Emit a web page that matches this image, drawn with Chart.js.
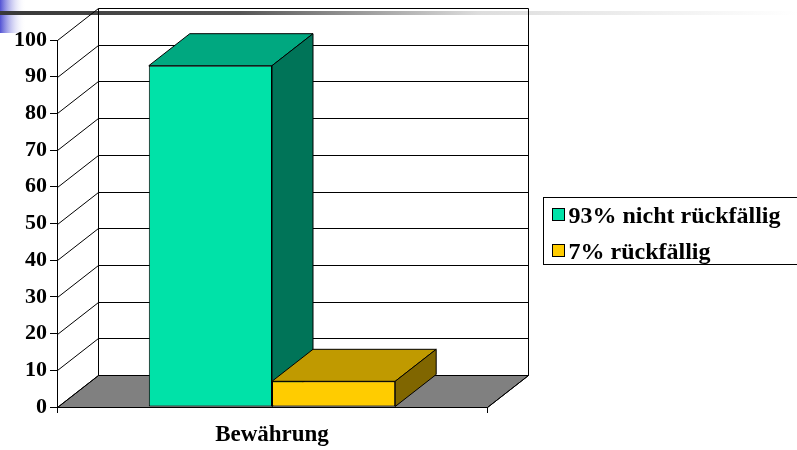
<!DOCTYPE html>
<html>
<head>
<meta charset="utf-8">
<script src="https://cdn.jsdelivr.net/npm/chart.js@4/dist/chart.umd.min.js"></script>
<style>
  html, body { margin: 0; padding: 0; background: #fff; }
  #wrap { width: 797px; height: 450px; position: relative; }
</style>
</head>
<body>
<div id="wrap"><canvas id="myChart"></canvas></div>
<script>
// chart data
const categories = ['Bewährung'];
const seriesLabels = ['93% nicht rückfällig', '7% rückfällig'];
const nichtRueckfaellig = [93];
const rueckfaellig = [7];
const yMin = 0;
const yMax = 100;
const yStep = 10;

// colours: front, top, side
const greenFace = ['#00e2a8', '#00a880', '#007458'];
const yellowFace = ['#ffcc00', '#c09a00', '#806600'];

const DX = 41, DY = -32;

function poly(ctx, pts, fill) {
    ctx.beginPath();
    ctx.moveTo(pts[0][0], pts[0][1]);
    for (let i = 1; i < pts.length; i++) ctx.lineTo(pts[i][0], pts[i][1]);
    ctx.closePath();
    if (fill) { ctx.fillStyle = fill; ctx.fill(); }
    ctx.strokeStyle = '#000';
    ctx.lineWidth = 1;
    ctx.stroke();
}

const slideDeco = {
    id: 'slideDeco',
    beforeDraw(chart) {
        const ctx = chart.ctx;
        ctx.save();
        ctx.fillStyle = '#fff';
        ctx.fillRect(0, 0, chart.width, chart.height);
        let g = ctx.createLinearGradient(0, 0, 26, 0);
        g.addColorStop(0, '#5252d4');
        g.addColorStop(1, 'rgba(255,255,255,0)');
        ctx.fillStyle = g;
        ctx.fillRect(0, 0, 26, 33);
        g = ctx.createLinearGradient(0, 0, chart.width, 0);
        g.addColorStop(0, '#383838');
        g.addColorStop(0.3, '#555555');
        g.addColorStop(0.6, '#dddddd');
        g.addColorStop(1, '#ffffff');
        ctx.fillStyle = g;
        ctx.fillRect(0, 11, chart.width, 4);
        ctx.restore();
    }
};

const threeD = {
    id: 'threeD',
    beforeDatasetsDraw(chart) {
        const ctx = chart.ctx;
        const a = chart.chartArea;
        const ys = chart.scales.y;
        const y0 = ys.getPixelForValue(yMin);
        ctx.save();
        ctx.translate(0.5, 0.5);
        // floor
        poly(ctx, [[a.left, y0], [a.right, y0], [a.right + DX, y0 + DY], [a.left + DX, y0 + DY]], '#808080');
        // back wall + diagonals
        ctx.beginPath();
        for (let v = yMin; v <= yMax; v += yStep) {
            const py = Math.round(ys.getPixelForValue(v));
            ctx.moveTo(a.left, py);
            ctx.lineTo(a.left + DX, py + DY);
            ctx.lineTo(a.right + DX, py + DY);
        }
        const top = Math.round(ys.getPixelForValue(yMax));
        ctx.moveTo(a.left + DX, top + DY);
        ctx.lineTo(a.left + DX, y0 + DY);
        ctx.moveTo(a.right + DX, top + DY);
        ctx.lineTo(a.right + DX, y0 + DY);
        ctx.moveTo(a.right, y0);
        ctx.lineTo(a.right + DX, y0 + DY);
        ctx.strokeStyle = '#000';
        ctx.lineWidth = 1;
        ctx.stroke();
        ctx.restore();
        // bar tops and sides
        ctx.save();
        chart.data.datasets.forEach((ds, i) => {
            const meta = chart.getDatasetMeta(i);
            meta.data.forEach(bar => {
                const l = bar.x - bar.width / 2, r = bar.x + bar.width / 2;
                const t = bar.y, b = bar.base;
                poly(ctx, [[l, t], [r, t], [r + DX, t + DY], [l + DX, t + DY]], ds.topColor);
                poly(ctx, [[r, t], [r + DX, t + DY], [r + DX, b + DY], [r, b]], ds.sideColor);
            });
        });
        ctx.restore();
    },
    afterDraw(chart) {
        // legend box
        const ctx = chart.ctx;
        ctx.save();
        ctx.translate(0.5, 0.5);
        ctx.strokeStyle = '#000';
        ctx.lineWidth = 1;
        ctx.strokeRect(543, 197, 270, 67);
        ctx.font = 'bold 24px "Liberation Serif"';
        ctx.textBaseline = 'middle';
        chart.data.datasets.forEach((ds, i) => {
            const yy = 214 + i * 36;
            ctx.fillStyle = ds.backgroundColor;
            ctx.fillRect(552, yy - 6, 12, 12);
            ctx.strokeRect(552, yy - 6, 12, 12);
            ctx.fillStyle = '#000';
            ctx.fillText(ds.label, 568, yy + 2);
        });
        ctx.restore();
    }
};

Chart.defaults.font.family = '"Liberation Serif", serif';
Chart.defaults.font.size = 22;
Chart.defaults.font.weight = 'bold';
Chart.defaults.color = '#000';

const data = {
    labels: categories,
    datasets: [{
        label: seriesLabels[0],
        data: nichtRueckfaellig,
        backgroundColor: greenFace[0],
        topColor: greenFace[1],
        sideColor: greenFace[2],
    }, {
        label: seriesLabels[1],
        data: rueckfaellig,
        backgroundColor: yellowFace[0],
        topColor: yellowFace[1],
        sideColor: yellowFace[2],
    }]
};

const config = {
    type: 'bar',
    data: data,
    options: {
        responsive: true,
        maintainAspectRatio: false,
        animation: false,
        datasets: {
            bar: {
                borderColor: '#000',
                borderWidth: 1,
                borderSkipped: false,
                categoryPercentage: 0.573,
                barPercentage: 1,
            }
        },
        layout: { padding: { top: 40, right: 310, left: 0, bottom: 0 } },
        plugins: {
            legend: { display: false },
            tooltip: { enabled: false },
        },
        scales: {
            x: {
                grid: { drawOnChartArea: false, color: '#000', tickLength: 6, offset: true },
                border: { color: '#000' },
                ticks: { padding: 8, font: { size: 23 } },
                afterFit(s) { s.height = 43; }
            },
            y: {
                min: yMin,
                max: yMax,
                grid: { drawOnChartArea: false, color: '#000', tickLength: 7 },
                border: { color: '#000' },
                ticks: { stepSize: yStep, padding: 3 },
                afterFit(s) { s.width = 57; }
            }
        }
    },
    plugins: [slideDeco, threeD]
};

const myChart = new Chart(document.getElementById('myChart'), config);
</script>
</body>
</html>
